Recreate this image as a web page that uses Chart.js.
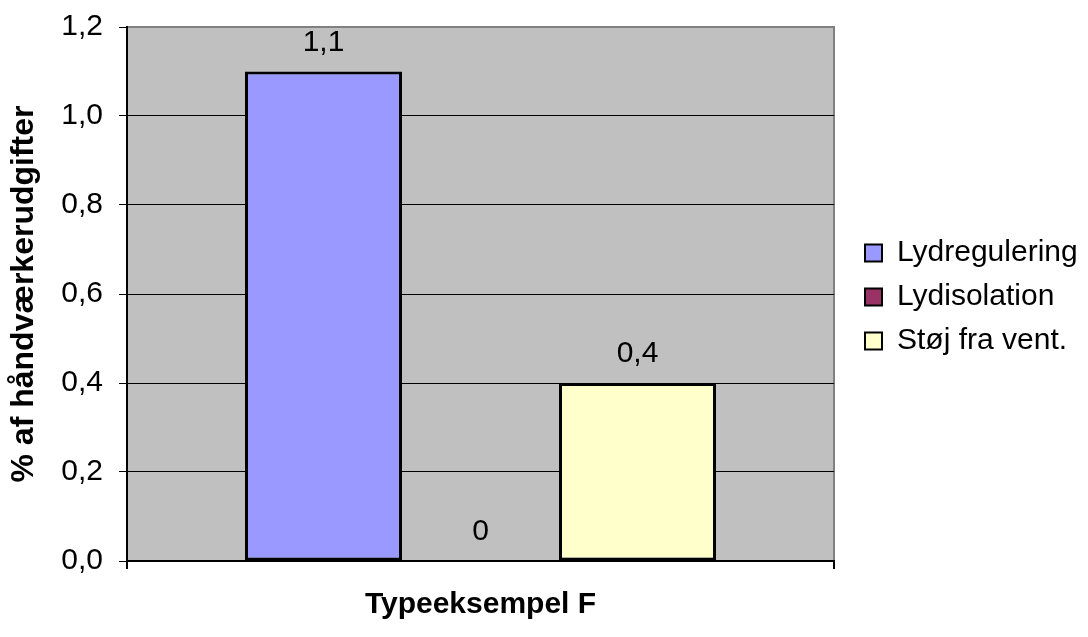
<!doctype html>
<html>
<head>
	<title>Typeeksempel F</title>
	<script src="https://cdn.jsdelivr.net/npm/chart.js@4/dist/chart.umd.min.js"></script>
	<style>
		body { margin: 0; background: #fff; }
	</style>
</head>
<body>
	<canvas id="chart-area" width="1088" height="637"></canvas>
	<script>
		var categories = ['Typeeksempel F'];
		var seriesNames = ['Lydregulering', 'Lydisolation', 'Støj fra vent.'];
		var seriesValues = [[1.1], [0], [0.4]];
		var seriesColors = ['#9999FF', '#993366', '#FFFFCC'];
		var yTicks = [0, 0.2, 0.4, 0.6, 0.8, 1.0, 1.2];
		var yLabel = '% af håndværkerudgifter';

		var font = "'Liberation Sans', Arial, sans-serif";

		function comma(v) {
			return String(v).replace('.', ',');
		}

		var datasets = seriesNames.map(function(name, i) {
			return {
				label: name,
				data: seriesValues[i],
				backgroundColor: seriesColors[i],
				borderColor: '#000',
				borderWidth: 3,
				borderSkipped: false
			};
		});

		// grey plot background with grey top/right border
		var plotArea = {
			id: 'plotArea',
			beforeDraw: function(chart) {
				var a = chart.chartArea, c = chart.ctx;
				c.save();
				c.fillStyle = '#C0C0C0';
				c.fillRect(a.left, a.top, a.right - a.left, a.bottom - a.top);
				c.strokeStyle = '#808080';
				c.lineWidth = 2;
				c.beginPath();
				c.moveTo(a.left, a.top);
				c.lineTo(a.right, a.top);
				c.lineTo(a.right, a.bottom);
				c.stroke();
				c.restore();
			}
		};

		// value labels above the bars
		var valueLabels = {
			id: 'valueLabels',
			afterDatasetsDraw: function(chart) {
				var c = chart.ctx;
				c.save();
				c.font = '30px ' + font;
				c.fillStyle = '#000';
				c.textAlign = 'center';
				c.textBaseline = 'middle';
				chart.data.datasets.forEach(function(ds, i) {
					chart.getDatasetMeta(i).data.forEach(function(bar, j) {
						c.fillText(comma(ds.data[j]), bar.x, bar.y - 29);
					});
				});
				c.restore();
			}
		};

		// fixed legend width and offset like the original
		var legendPlace = {
			id: 'legendPlace',
			beforeLayout: function(chart) {
				var lg = chart.legend;
				if (lg && !lg._fixed) {
					var fit = lg.fit;
					lg.fit = function() {
						fit.call(this);
						this.width = 254;
					};
					lg._fixed = true;
				}
			},
			afterLayout: function(chart) {
				chart.legend.left += 17;
				chart.legend.top -= 35;
				chart.legend.bottom -= 35;
			}
		};

		var config = {
			type: 'bar',
			data: {
				labels: categories,
				datasets: datasets
			},
			options: {
				responsive: false,
				animation: false,
				layout: { padding: { top: 27, left: 0, right: 0, bottom: 0 } },
				datasets: {
					bar: { categoryPercentage: 0.6662, barPercentage: 1 }
				},
				scales: {
					x: {
						afterFit: function(s) { s.height = 76; },
						ticks: { display: false },
						grid: { drawOnChartArea: false, color: '#000', lineWidth: 2, tickLength: 8 },
						border: { color: '#000', width: 2 },
						title: {
							display: true,
							text: categories[0],
							color: '#000',
							font: { family: font, size: 30, weight: 'bold' },
							padding: { top: 0, bottom: 14 }
						}
					},
					y: {
						min: 0,
						max: 1.2,
						afterFit: function(s) { s.width = 127; },
						afterBuildTicks: function(s) {
							s.ticks = yTicks.map(function(v) { return { value: v }; });
						},
						ticks: {
							color: '#000',
							padding: 16,
							font: { family: font, size: 30, lineHeight: 0.7 },
							callback: function(v) { return v.toFixed(1).replace('.', ','); }
						},
						grid: {
							color: function(ctx) {
								return ctx.tick && Math.abs(ctx.tick.value - 1.2) < 1e-6 ? '#808080' : '#000';
							},
							tickColor: '#000',
							lineWidth: 1,
							tickLength: 8
						},
						border: { color: '#000', width: 2 },
						title: {
							display: true,
							text: yLabel,
							color: '#000',
							font: { family: font, size: 32, weight: 'bold' },
							padding: { top: 5, bottom: 0 }
						}
					}
				},
				plugins: {
					tooltip: { enabled: false },
					legend: {
						position: 'right',
						labels: {
							color: '#000',
							font: { family: font, size: 30 },
							boxWidth: 17,
							boxHeight: 17,
							padding: 14,
							generateLabels: function(chart) {
								var items = Chart.defaults.plugins.legend.labels.generateLabels(chart);
								items.forEach(function(it) { it.lineWidth = 2; });
								return items;
							}
						}
					}
				}
			},
			plugins: [plotArea, valueLabels, legendPlace]
		};

		window.onload = function() {
			var ctx = document.getElementById('chart-area').getContext('2d');
			window.myBar = new Chart(ctx, config);
		};
	</script>
</body>
</html>
